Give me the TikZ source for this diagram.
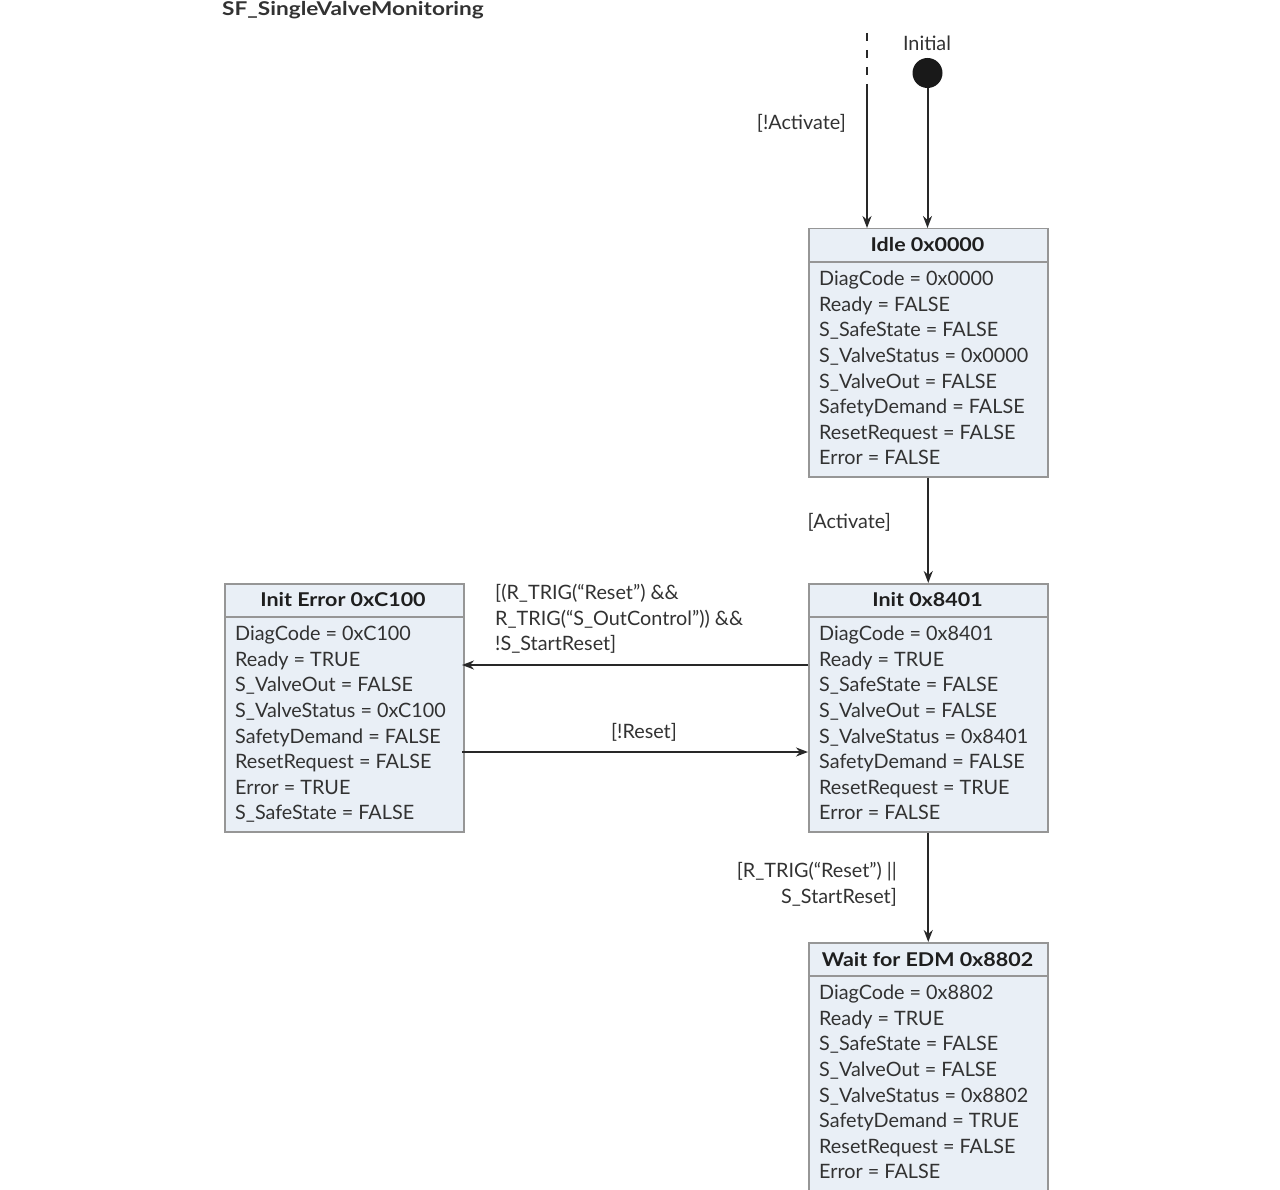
\documentclass[tikz,border=0pt]{standalone}
\usepackage{fontspec}
\setmainfont{Lato}
\usetikzlibrary{arrows.meta}
\definecolor{boxfill}{RGB}{233,239,246}
\definecolor{boxline}{RGB}{150,150,150}
\definecolor{txt}{RGB}{50,50,50}
\definecolor{hdrtxt}{RGB}{30,30,30}
\definecolor{arr}{RGB}{40,40,40}
\newcommand{\hstretch}[1]{\scalebox{1.13}[1]{#1}}
\newcommand{\tstretch}[1]{\scalebox{1.19}[1]{#1}}
\begin{document}
\begin{tikzpicture}[x=1pt,y=-1pt,
  statebox/.style={draw=boxline, line width=1.5pt, fill=boxfill, minimum width=239pt, minimum height=248pt, inner sep=0pt, anchor=north west},
  hdr/.style={font=\fontsize{19}{22}\selectfont\bfseries, text=hdrtxt, inner sep=0pt},
  body/.style={font=\fontsize{19.8}{25.6}\selectfont, text=txt, align=left, anchor=north west, inner sep=0pt},
  lbl/.style={font=\fontsize{19.8}{25.6}\selectfont, text=txt, inner sep=0pt},
  sep/.style={draw=boxline, line width=1.2pt},
  trans/.style={draw=arr, line width=2pt, -{Stealth[length=12pt,width=9pt]}}
]
\useasboundingbox (0,0) rectangle (1280,1190);

\node[hdr, anchor=west, text=txt] (title) at (222,10) {\tstretch{SF\_SingleValveMonitoring}};

% Idle
\node[statebox] (idle) at (808,228) {};
\node[hdr] (idleh) at (927.5,245) {\hstretch{Idle 0x0000}};
\draw[sep] ([yshift=-34pt]idle.north west) -- ([yshift=-34pt]idle.north east);
\node[body] (idleb) at (819,271) {DiagCode = 0x0000\\Ready = FALSE\\S\_SafeState = FALSE\\S\_ValveStatus = 0x0000\\S\_ValveOut = FALSE\\SafetyDemand = FALSE\\ResetRequest = FALSE\\Error = FALSE};

% Init
\node[statebox] (initst) at (808,583) {};
\node[hdr] (inith) at (927.5,600) {\hstretch{Init 0x8401}};
\draw[sep] ([yshift=-34pt]initst.north west) -- ([yshift=-34pt]initst.north east);
\node[body] (initb) at (819,626) {DiagCode = 0x8401\\Ready = TRUE\\S\_SafeState = FALSE\\S\_ValveOut = FALSE\\S\_ValveStatus = 0x8401\\SafetyDemand = FALSE\\ResetRequest = TRUE\\Error = FALSE};

% Init Error
\node[statebox] (err) at (224,583) {};
\node[hdr] (errh) at (343,600) {\hstretch{Init Error 0xC100}};
\draw[sep] ([yshift=-34pt]err.north west) -- ([yshift=-34pt]err.north east);
\node[body] (errb) at (235,626) {DiagCode = 0xC100\\Ready = TRUE\\S\_ValveOut = FALSE\\S\_ValveStatus = 0xC100\\SafetyDemand = FALSE\\ResetRequest = FALSE\\Error = TRUE\\S\_SafeState = FALSE};

% Wait for EDM
\node[statebox] (wait) at (808,942) {};
\node[hdr] (waith) at (927.5,960) {\hstretch{Wait for EDM 0x8802}};
\draw[sep] ([yshift=-34pt]wait.north west) -- ([yshift=-34pt]wait.north east);
\node[body] (waitb) at (819,985) {DiagCode = 0x8802\\Ready = TRUE\\S\_SafeState = FALSE\\S\_ValveOut = FALSE\\S\_ValveStatus = 0x8802\\SafetyDemand = TRUE\\ResetRequest = FALSE\\Error = FALSE};

% initial
\node[circle, fill=black!90, minimum size=30pt, inner sep=0pt] (start) at (927.5,73) {};
\node[lbl] (startl) at (927,43) {Initial};
\draw[trans] (start) -- (start |- idle.north);

% dashed incoming
\coordinate (dtop) at (867,33);
\coordinate (dmid) at (867,88);
\draw[draw=arr, line width=2pt, dash pattern=on 8pt off 9pt] (dtop) -- (dmid);
\draw[trans] (dmid) -- (dmid |- idle.north);
\node[lbl, anchor=east] (l1) at (846,123) {[!Activate]};

% idle -> init
\draw[trans] (idle.south) -- (initst.north);
\node[lbl, anchor=east] (l2) at (891,522) {[Activate]};

% init -> error
\coordinate (a1) at (808,665);
\coordinate (a2) at (462,665);
\draw[trans] (a1) -- (a2);
\node[lbl, anchor=north west, align=left] (l3) at (495,584) {[(R\_TRIG(“Reset”) \&\&\\R\_TRIG(“S\_OutControl”)) \&\&\\!S\_StartReset]};

% error -> init
\coordinate (b1) at (462,752);
\coordinate (b2) at (808,752);
\draw[trans] (b1) -- (b2);
\node[lbl] (l4) at (644,732) {[!Reset]};

% init -> wait
\draw[trans] (initst.south) -- (wait.north);
\node[lbl, anchor=east, align=right] (l5) at (897,884) {[R\_TRIG(“Reset”) ||\\S\_StartReset]};
\end{tikzpicture}
\end{document}
